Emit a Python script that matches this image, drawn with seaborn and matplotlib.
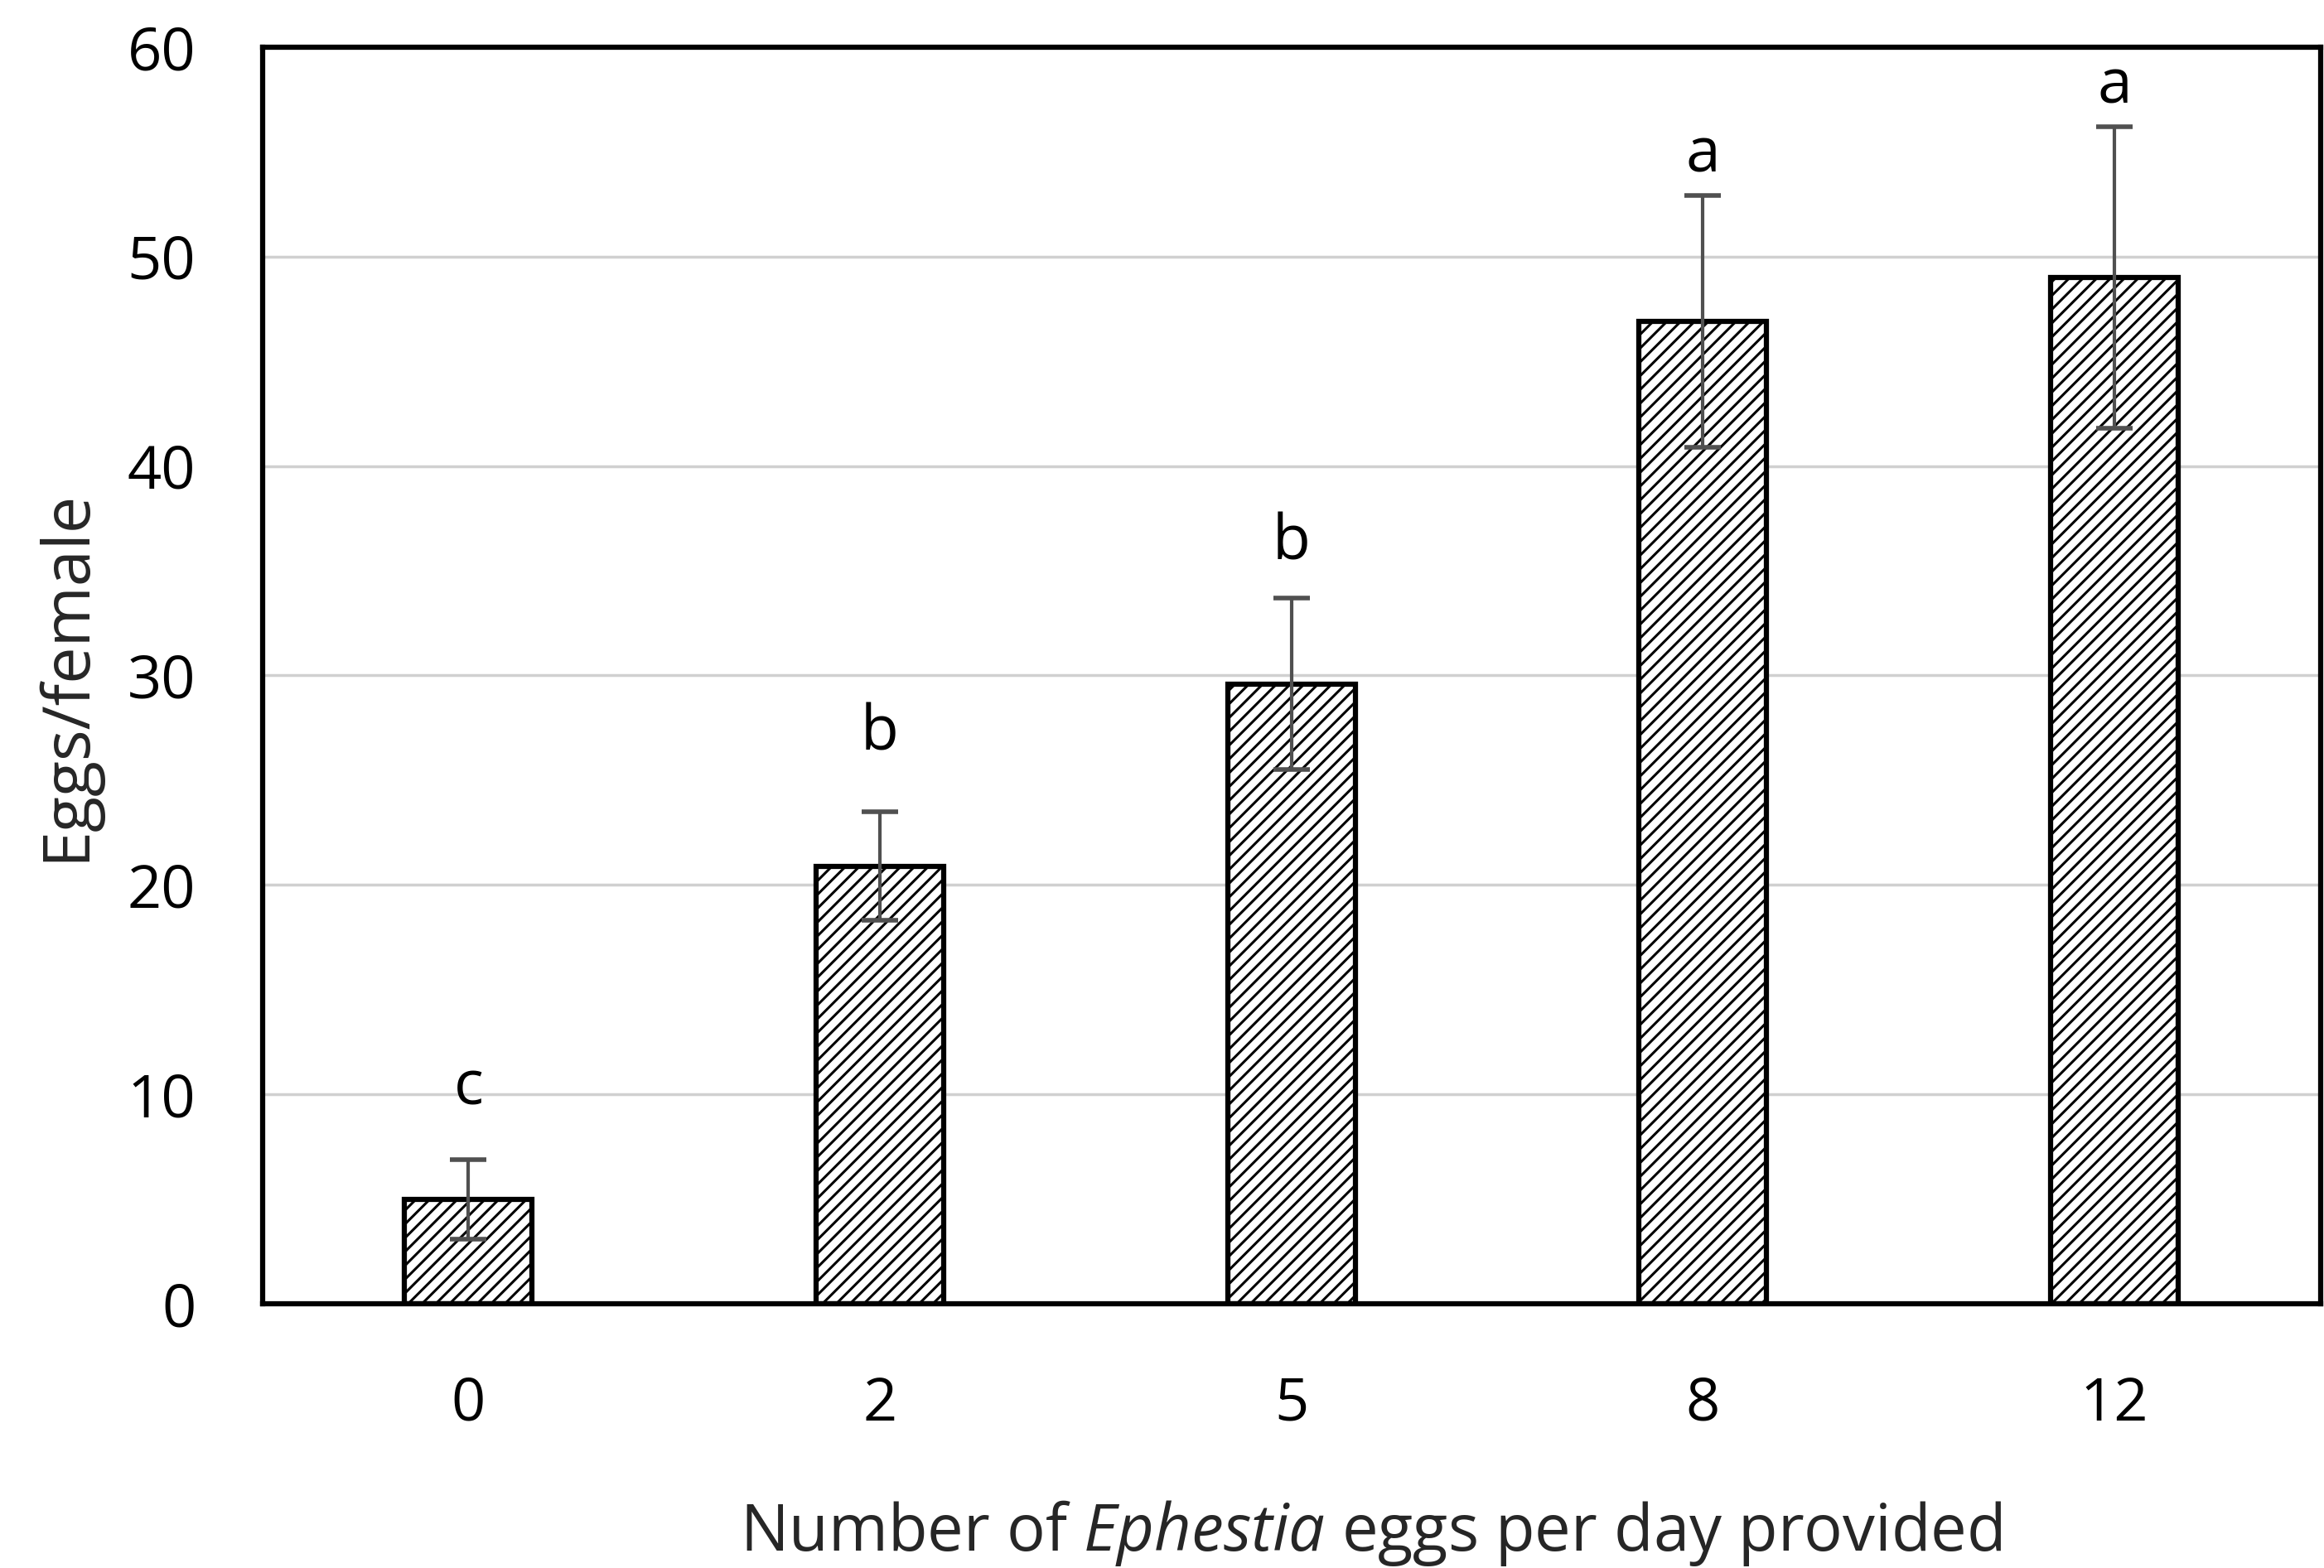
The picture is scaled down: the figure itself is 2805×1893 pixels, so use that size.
import numpy as np
import pandas as pd
import seaborn as sns
import matplotlib.pyplot as plt

# data
categorias = ["0", "2", "5", "8", "12"]
medias = [5.0, 20.9, 29.6, 46.9, 49.0]
erros = [1.9, 2.6, 4.1, 6.0, 7.2]
letras = ["c", "b", "b", "a", "a"]
letra_y = [10.3, 27.2, 36.3, 54.8, 58.1]
yticks = [0, 10, 20, 30, 40, 50, 60]

sns.set_theme(style="white")
plt.rcParams['font.family'] = ['Open Sans', 'DejaVu Sans']
plt.rcParams['mathtext.fontset'] = 'custom'
plt.rcParams['mathtext.rm'] = 'Open Sans'
plt.rcParams['mathtext.it'] = 'Open Sans:italic'
plt.rcParams['hatch.linewidth'] = 2.2
plt.rcParams['hatch.color'] = 'black'

df = pd.DataFrame({"ovos": categorias, "media": medias})

fig, ax = plt.subplots(figsize=(28.05, 18.93), dpi=100)
fig.subplots_adjust(left=0.113, right=0.9984, top=0.970, bottom=0.1685)

ax.yaxis.grid(True, color='#d0d0d0', linewidth=2.5)
ax.set_axisbelow(True)

sns.barplot(data=df, x="ovos", y="media", color="white", width=0.31,
            edgecolor="black", linewidth=4.5, errorbar=None, ax=ax, zorder=2)
for p in ax.patches:
    p.set_hatch('//')

ax.errorbar(np.arange(len(categorias)), medias, yerr=erros, fmt='none',
            ecolor='#505050', elinewidth=3, capsize=16, capthick=4, zorder=3)

for i, (l, y) in enumerate(zip(letras, letra_y)):
    ax.text(i, y, l, ha='center', va='center', fontsize=54, color='black')

ax.set_ylim(0, 60)
ax.set_xlim(-0.5, 4.5)
ax.set_yticks(yticks)
ax.tick_params(axis='both', length=0, labelsize=52, colors='black')
ax.tick_params(axis='x', pad=62)
ax.tick_params(axis='y', pad=58)

for s in ax.spines.values():
    s.set_visible(True)
    s.set_color('black')
    s.set_linewidth(4.5)

ax.set_xlabel(r"Number of $\mathit{Ephestia}$ eggs per day provided", fontsize=56, labelpad=45)
ax.xaxis.set_label_coords(0.5385, -0.155)
ax.set_ylabel("Eggs/female", fontsize=57, labelpad=24)

plt.savefig("out.png", dpi=100)
